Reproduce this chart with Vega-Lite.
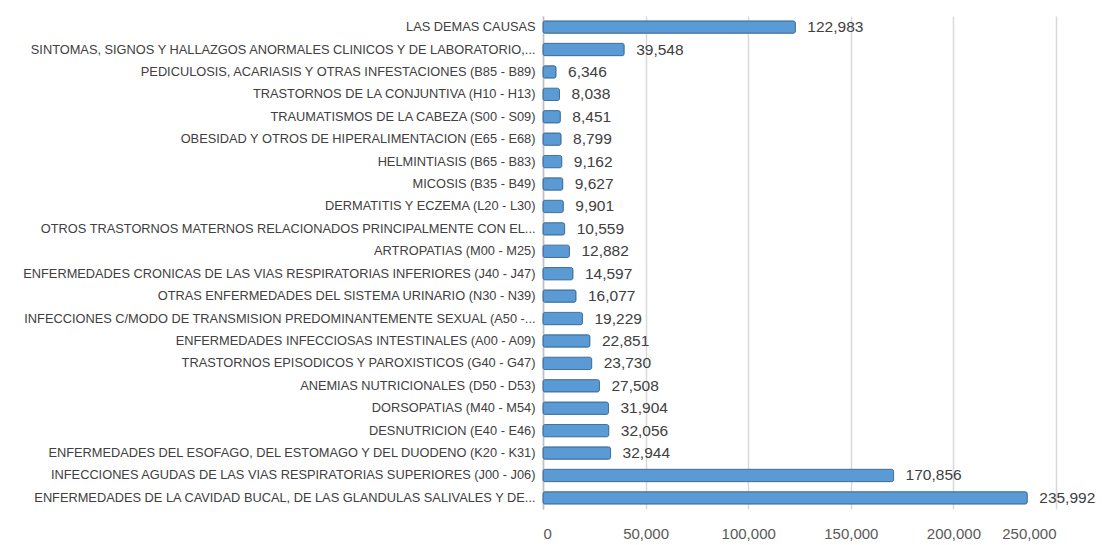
{
  "$schema": "https://vega.github.io/schema/vega-lite/v6.json",
  "autosize": "none",
  "width": 513,
  "height": 493,
  "padding": {"left": 543, "top": 16, "right": 46, "bottom": 36},
  "background": "white",
  "config": {
    "view": {"stroke": null},
    "font": "Liberation Sans"
  },
  "data": {
    "values": [
      {"causa": "LAS DEMAS CAUSAS", "valor": 122983},
      {"causa": "SINTOMAS, SIGNOS Y HALLAZGOS ANORMALES CLINICOS Y DE LABORATORIO,...", "valor": 39548},
      {"causa": "PEDICULOSIS, ACARIASIS Y OTRAS INFESTACIONES (B85 - B89)", "valor": 6346},
      {"causa": "TRASTORNOS DE LA CONJUNTIVA (H10 - H13)", "valor": 8038},
      {"causa": "TRAUMATISMOS DE LA CABEZA (S00 - S09)", "valor": 8451},
      {"causa": "OBESIDAD Y OTROS DE HIPERALIMENTACION (E65 - E68)", "valor": 8799},
      {"causa": "HELMINTIASIS (B65 - B83)", "valor": 9162},
      {"causa": "MICOSIS (B35 - B49)", "valor": 9627},
      {"causa": "DERMATITIS Y ECZEMA (L20 - L30)", "valor": 9901},
      {"causa": "OTROS TRASTORNOS MATERNOS RELACIONADOS PRINCIPALMENTE CON EL...", "valor": 10559},
      {"causa": "ARTROPATIAS (M00 - M25)", "valor": 12882},
      {"causa": "ENFERMEDADES CRONICAS DE LAS VIAS RESPIRATORIAS INFERIORES (J40 - J47)", "valor": 14597},
      {"causa": "OTRAS ENFERMEDADES DEL SISTEMA URINARIO (N30 - N39)", "valor": 16077},
      {"causa": "INFECCIONES C/MODO DE TRANSMISION PREDOMINANTEMENTE SEXUAL (A50 -...", "valor": 19229},
      {"causa": "ENFERMEDADES INFECCIOSAS INTESTINALES (A00 - A09)", "valor": 22851},
      {"causa": "TRASTORNOS EPISODICOS Y PAROXISTICOS (G40 - G47)", "valor": 23730},
      {"causa": "ANEMIAS NUTRICIONALES (D50 - D53)", "valor": 27508},
      {"causa": "DORSOPATIAS (M40 - M54)", "valor": 31904},
      {"causa": "DESNUTRICION (E40 - E46)", "valor": 32056},
      {"causa": "ENFERMEDADES DEL ESOFAGO, DEL ESTOMAGO Y DEL DUODENO (K20 - K31)", "valor": 32944},
      {"causa": "INFECCIONES AGUDAS DE LAS VIAS RESPIRATORIAS SUPERIORES (J00 - J06)", "valor": 170856},
      {"causa": "ENFERMEDADES DE LA CAVIDAD BUCAL, DE LAS GLANDULAS SALIVALES Y DE...", "valor": 235992}
    ]
  },
  "encoding": {
    "y": {
      "field": "causa",
      "type": "nominal",
      "sort": null,
      "title": null,
      "scale": {"paddingInner": 0.45, "paddingOuter": 0.22},
      "axis": {
        "labelFontSize": 12.8,
        "labelColor": "#404040",
        "labelLimit": 600,
        "labelPadding": 8,
        "ticks": false,
        "domain": true,
        "domainColor": "#bfbfbf",
        "domainWidth": 1.5
      }
    },
    "x": {
      "field": "valor",
      "type": "quantitative",
      "title": null,
      "scale": {"domain": [0, 250000], "nice": false},
      "axis": {
        "values": [0, 50000, 100000, 150000, 200000, 250000],
        "format": ",.0f",
        "labelFontSize": 15,
        "labelColor": "#595959",
        "labelPadding": 17,
        "ticks": false,
        "domain": false,
        "grid": true,
        "gridColor": "#d9d9d9",
        "gridWidth": 1.5
      }
    }
  },
  "layer": [
    {
      "mark": {
        "type": "bar",
        "color": "#5b9bd5",
        "stroke": "#41719c",
        "strokeWidth": 1,
        "cornerRadius": 2
      }
    },
    {
      "mark": {
        "type": "text",
        "align": "left",
        "baseline": "middle",
        "dx": 12,
        "fontSize": 15.5,
        "color": "#404040"
      },
      "encoding": {
        "text": {"field": "valor", "type": "quantitative", "format": ",.0f"}
      }
    }
  ]
}
